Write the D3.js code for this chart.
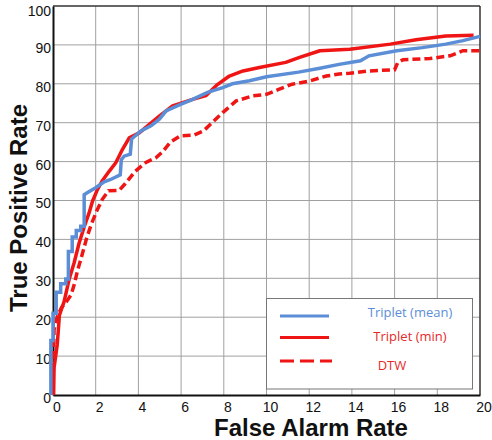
<!DOCTYPE html>
<html>
<head>
<meta charset="utf-8">
<script src="https://cdn.jsdelivr.net/npm/d3@7"></script>
<style>
  body { margin: 0; background: #fff; }
  svg { display: block; }
</style>
</head>
<body>
<svg id="chart" width="492" height="440"></svg>
<script>
// ROC curves (x: false alarm rate, y: true positive rate)
const meanX = [-0.1, -0.1, 0.0, 0.0, 0.15, 0.15, 0.36, 0.36, 0.6, 0.6, 0.72, 0.72, 0.9, 0.9, 1.09, 1.09, 1.3, 1.3, 1.46, 1.46, 1.6, 2.0, 2.4, 2.7, 3.15, 3.2, 3.33, 3.62, 3.68, 4.12, 4.59, 4.98, 5.29, 5.92, 6.54, 7.24, 7.95, 8.4, 9.2, 10, 11.5, 12.5, 13.4, 14.4, 14.8, 16.1, 17.3, 18.4, 19.2, 20];
const meanY = [0, 14, 14, 21, 21, 26.4, 26.4, 28.6, 28.6, 29.8, 29.8, 36.9, 36.9, 40.6, 40.6, 42.3, 42.3, 43.4, 43.4, 51.5, 52, 53.3, 54.8, 55.4, 56.6, 60.5, 61.4, 61.9, 65.8, 67.9, 69.2, 70.9, 73, 74.6, 76, 77.8, 79, 80, 80.8, 81.8, 83, 84, 85, 85.9, 87.2, 88.5, 89.3, 90.2, 91.1, 92.2];

const minX = [0.03, 0.05, 0.2, 0.3, 0.52, 0.75, 0.99, 1.22, 1.46, 1.69, 1.85, 2.08, 2.3, 2.63, 2.94, 3.25, 3.57, 4.04, 4.43, 4.98, 5.6, 6.54, 7.17, 7.7, 8.26, 8.9, 9.67, 10.9, 11.55, 12.5, 13.9, 15.8, 17, 18.4, 19.7];
const minY = [0, 7, 13, 20.5, 24, 29.6, 34, 39, 43.2, 46.8, 49.8, 52.8, 55, 57.5, 59.7, 63.1, 66.1, 67.4, 69.2, 71.7, 74.3, 76, 77, 79.8, 82, 83.3, 84.2, 85.5, 86.8, 88.5, 88.9, 90.2, 91.3, 92.3, 92.5];

const dtwX = [0.0, 0.02, 0.05, 0.2, 0.4, 0.63, 0.85, 1.0, 1.14, 1.34, 1.58, 1.8, 2.08, 2.31, 2.6, 3.1, 3.38, 3.85, 4.35, 4.82, 5.13, 5.5, 5.95, 6.6, 7.05, 7.3, 7.95, 8.58, 9.36, 10, 10.6, 11.2, 12.0, 12.8, 13.4, 13.9, 14.8, 16.0, 16.15, 16.4, 17.65, 18.6, 19.2, 20];
const dtwY = [0, 8, 16.8, 20.2, 22.5, 24, 25.8, 28.5, 31.8, 35.6, 40.4, 44, 47.7, 50.3, 52.5, 52.6, 54.3, 57.5, 59.8, 61, 62.5, 65, 66.6, 66.8, 67.9, 69.2, 72.6, 75.6, 76.9, 77.3, 78.6, 79.9, 80.7, 82, 82.5, 82.7, 83.3, 83.6, 85.5, 86.2, 86.5, 87.2, 88.5, 88.5];

const xTicks = [0, 2, 4, 6, 8, 10, 12, 14, 16, 18, 20];
const yTicks = [0, 10, 20, 30, 40, 50, 60, 70, 80, 90, 100];
const seriesNames = ["Triplet (mean)", "Triplet (min)", "DTW"];

const blue = "#5b8ed6";
const red = "#f01515";

const svg = d3.select("#chart");
const plotLeft = 53, plotRight = 480, plotTop = 6, plotBottom = 395;

const x = d3.scaleLinear().domain([0, 20]).range([plotLeft, plotRight]);
const y = d3.scaleLinear().domain([0, 100]).range([plotBottom, plotTop]);

svg.append("rect").attr("width", 492).attr("height", 440).attr("fill", "#fff");

// grid
const grid = svg.append("g");
grid.selectAll(".vx")
  .data(xTicks.slice(1, -1))
  .join("line")
  .attr("x1", d => x(d)).attr("x2", d => x(d))
  .attr("y1", plotTop).attr("y2", plotBottom)
  .attr("stroke", "#a0a0a0").attr("stroke-width", 1);
grid.selectAll(".hy")
  .data(yTicks.slice(1, -1))
  .join("line")
  .attr("x1", plotLeft).attr("x2", plotRight)
  .attr("y1", d => y(d)).attr("y2", d => y(d))
  .attr("stroke", "#a0a0a0").attr("stroke-width", 1);

// frame
svg.append("line").attr("x1", plotLeft).attr("x2", plotRight).attr("y1", plotTop).attr("y2", plotTop)
  .attr("stroke", "#333").attr("stroke-width", 1.5);
svg.append("line").attr("x1", plotRight).attr("x2", plotRight).attr("y1", plotTop).attr("y2", plotBottom)
  .attr("stroke", "#333").attr("stroke-width", 1.5);

// axes with labels only
const xAxis = svg.append("g")
  .attr("transform", `translate(0,${plotBottom})`)
  .call(d3.axisBottom(x).tickValues(xTicks).tickSize(0).tickPadding(7));
xAxis.select(".domain").attr("stroke", "#111").attr("stroke-width", 2);
xAxis.selectAll("text")
  .attr("dx", 3.5)
  .style("font-family", "'Liberation Sans', Arial, sans-serif")
  .style("font-size", "14px")
  .attr("fill", "#111");

const yAxis = svg.append("g")
  .attr("transform", `translate(${plotLeft},0)`)
  .call(d3.axisLeft(y).tickValues(yTicks).tickSize(0).tickPadding(2));
yAxis.select(".domain").attr("stroke", "#111").attr("stroke-width", 2);
yAxis.selectAll("text")
  .attr("y", d => d === 100 ? 5 : 3)
  .style("font-family", "'Liberation Sans', Arial, sans-serif")
  .style("font-size", "14px")
  .attr("fill", "#111");

// curves
const line = d3.line().x(d => x(d[0])).y(d => y(d[1]));
const zip = (xs, ys) => xs.map((v, i) => [v, ys[i]]);

svg.append("path")
  .attr("d", line(zip(dtwX, dtwY)))
  .attr("fill", "none").attr("stroke", red).attr("stroke-width", 3.5)
  .attr("stroke-dasharray", "8,4");
svg.append("path")
  .attr("d", line(zip(minX, minY)))
  .attr("fill", "none").attr("stroke", red).attr("stroke-width", 3.5)
  .attr("stroke-linejoin", "round");
svg.append("path")
  .attr("d", line(zip(meanX, meanY)))
  .attr("fill", "none").attr("stroke", blue).attr("stroke-width", 3.5);

// axis titles
svg.append("text")
  .attr("x", 311).attr("y", 435.5)
  .attr("text-anchor", "middle")
  .style("font-family", "'Liberation Sans', Arial, sans-serif")
  .style("font-weight", "bold").style("font-size", "24px")
  .attr("fill", "#111")
  .text("False Alarm Rate");
svg.append("text")
  .attr("transform", "translate(27,208) rotate(-90)")
  .attr("text-anchor", "middle")
  .style("font-family", "'Liberation Sans', Arial, sans-serif")
  .style("font-weight", "bold").style("font-size", "24px")
  .attr("fill", "#111")
  .text("True Positive Rate");

// legend
const legend = svg.append("g");
legend.append("rect")
  .attr("x", 266.5).attr("y", 298.5).attr("width", 206).attr("height", 90.5)
  .attr("fill", "#fff").attr("stroke", "#777").attr("stroke-width", 1);

const legendRows = [
  { name: seriesNames[0], color: blue, dash: null, ly: 316, ty: 316.5, tx: 410 },
  { name: seriesNames[1], color: red, dash: null, ly: 337.5, ty: 341, tx: 410 },
  { name: seriesNames[2], color: red, dash: "14,6", ly: 361, ty: 370, tx: 392 }
];
legend.selectAll(".ll")
  .data(legendRows)
  .join("line")
  .attr("x1", 280).attr("x2", d => d.dash ? 332 : 329)
  .attr("y1", d => d.ly).attr("y2", d => d.ly)
  .attr("stroke", d => d.color).attr("stroke-width", 3)
  .attr("stroke-dasharray", d => d.dash);
legend.selectAll(".lt")
  .data(legendRows)
  .join("text")
  .attr("x", d => d.tx).attr("y", d => d.ty)
  .attr("text-anchor", "middle")
  .style("font-family", "'Open Sans', sans-serif")
  .style("font-size", "13px")
  .attr("fill", d => d.color === blue ? blue : "#e52a2a")
  .text(d => d.name);
</script>
</body>
</html>
